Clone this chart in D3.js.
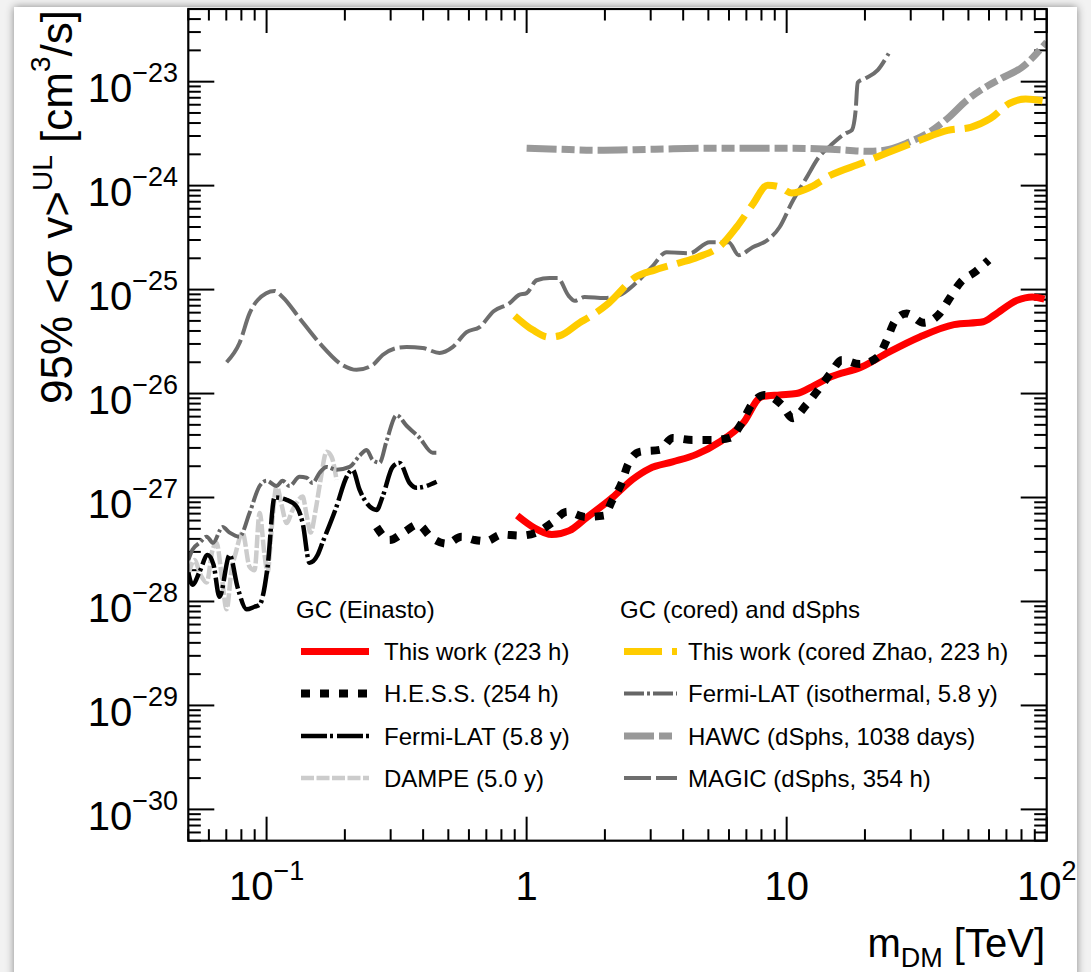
<!DOCTYPE html>
<html lang="en">
<head>
<meta charset="UTF-8">
<title>DM annihilation upper limits</title>
<script src="https://d3js.org/d3.v7.min.js"></script>
<style>
  body { margin: 0; background: #ffffff; }
  svg { display: block; font-family: "Liberation Sans", Arial, Helvetica, sans-serif; }
</style>
</head>
<body>
<div class="canvas"></div>
<script>
// axis ranges and ticks
const xDomain = [0.05, 100];
const yDomain = [5e-31, 5e-23];
const xTickValues = [0.1, 1, 10, 100];
const xTickLabels = [['10', '−1'], ['1', ''], ['10', ''], ['10', '2']];
const yTickExps = [-30, -29, -28, -27, -26, -25, -24, -23];

// [m_DM (TeV), <sigma v> (cm^3/s)]
const thisWorkEinasto = [
  [0.92, 6.7e-28], [1.07, 5.1e-28], [1.25, 4.4e-28], [1.46, 4.8e-28], [1.70, 6.4e-28],
  [2.14, 1.0e-27], [2.56, 1.5e-27], [2.97, 1.9e-27], [3.64, 2.2e-27], [4.5, 2.6e-27],
  [5.5, 3.4e-27], [6.8, 5.2e-27], [8.0, 9.3e-27], [9.4, 9.7e-27], [10.9, 1.0e-26],
  [12.8, 1.2e-26], [14.8, 1.45e-26], [19.4, 1.8e-26], [24.7, 2.5e-26], [32.5, 3.5e-26],
  [44, 4.6e-26], [57, 4.9e-26], [63, 5.7e-26], [77, 7.9e-26], [88, 8.5e-26], [98, 8.1e-26]
];
const hess = [
  [0.265, 5.2e-28], [0.297, 3.9e-28], [0.34, 4.7e-28], [0.381, 5.5e-28], [0.431, 4.1e-28],
  [0.492, 3.6e-28], [0.562, 4.2e-28], [0.631, 3.9e-28], [0.70, 3.8e-28], [0.80, 4.4e-28],
  [0.94, 4.3e-28], [1.09, 4.6e-28], [1.25, 5.7e-28], [1.43, 7.3e-28], [1.69, 6.5e-28],
  [1.98, 6.7e-28], [2.14, 9.5e-28], [2.32, 1.38e-27], [2.45, 2.06e-27], [2.72, 2.75e-27],
  [3.25, 2.87e-27], [3.64, 3.74e-27], [4.35, 3.58e-27], [5.19, 3.58e-27], [6.04, 3.74e-27],
  [6.71, 5.2e-27], [7.33, 7.8e-27], [8.23, 9.7e-27], [9.57, 7.8e-27], [10.55, 5.8e-27],
  [11.9, 7.8e-27], [13.2, 1.08e-26], [14.8, 1.58e-26], [16.3, 2.1e-26], [19.1, 1.92e-26],
  [22.4, 2.25e-26], [24.3, 3.3e-26], [26.0, 4.9e-26], [28.9, 5.9e-26], [33.6, 4.8e-26],
  [38.8, 5.9e-26], [42.4, 8.3e-26], [46.7, 1.18e-25], [52.9, 1.47e-25], [59.8, 1.92e-25]
];
const fermiEinasto = [
  [0.05, 1.9e-28], [0.0519, 1.45e-28], [0.0553, 1.94e-28], [0.0593, 2.8e-28], [0.0625, 2.26e-28],
  [0.0659, 1.11e-28], [0.0721, 2.8e-28], [0.0774, 1.36e-28], [0.0838, 8.4e-29], [0.0899, 8.9e-29],
  [0.094, 9.3e-29], [0.1009, 2.16e-28], [0.1073, 1.0e-27], [0.1194, 9.5e-28], [0.1304, 8.2e-28],
  [0.1376, 5.7e-28], [0.1463, 2.36e-28], [0.1571, 2.8e-28], [0.1642, 3.7e-28], [0.1858, 8.2e-28],
  [0.2031, 1.58e-27], [0.2142, 1.85e-27], [0.2278, 1.19e-27], [0.2489, 8.2e-28], [0.2649, 7.6e-28],
  [0.2794, 1.02e-27], [0.3052, 1.97e-27], [0.3248, 2.15e-27], [0.3548, 1.38e-27], [0.3775, 1.24e-27],
  [0.4507, 1.42e-27]
];
const dampe = [
  [0.05, 1.81e-28], [0.0528, 2.5e-28], [0.0557, 1.81e-28], [0.0588, 1.52e-28], [0.062, 3.15e-28],
  [0.0642, 3.67e-28], [0.0671, 1.81e-28], [0.0702, 8.4e-29], [0.0733, 2.0e-28], [0.076, 2.9e-28],
  [0.0808, 4.6e-28], [0.086, 2.16e-28], [0.0899, 2.0e-28], [0.094, 7.1e-28], [0.0982, 2.8e-28],
  [0.1009, 1.9e-28], [0.1045, 4.9e-28], [0.1093, 1.29e-27], [0.1142, 8.5e-28], [0.1194, 5.7e-28],
  [0.1259, 7.6e-28], [0.1304, 8.9e-28], [0.1376, 1.02e-27], [0.1425, 6.8e-28], [0.1477, 4.6e-28],
  [0.1544, 7.6e-28], [0.1613, 1.48e-27], [0.1701, 2.75e-27], [0.1778, 2.46e-27], [0.1858, 1.48e-27]
];
const thisWorkCored = [
  [0.899, 5.6e-26], [1.054, 4.1e-26], [1.215, 3.5e-26], [1.339, 3.6e-26], [1.599, 4.8e-26],
  [1.732, 5.4e-26], [2.067, 7.4e-26], [2.626, 1.32e-25], [3.107, 1.54e-25], [3.843, 1.8e-25],
  [4.547, 2.05e-25], [5.623, 2.7e-25], [6.424, 4.0e-25], [7.40, 6.6e-25], [8.45, 1.01e-24],
  [9.40, 9.7e-25], [10.45, 8.5e-25], [12.37, 9.7e-25], [14.77, 1.26e-24], [19.43, 1.64e-24],
  [24.68, 2.09e-24], [32.47, 2.73e-24], [41.6, 3.4e-24], [51.0, 3.64e-24], [60.9, 4.44e-24],
  [72.1, 6.2e-24], [83.0, 6.8e-24], [98.2, 6.5e-24]
];
const fermiIso = [
  [0.05, 2.5e-28], [0.0519, 3.15e-28], [0.0553, 3.67e-28], [0.0588, 4.2e-28], [0.0623, 3.67e-28],
  [0.0677, 5.2e-28], [0.0721, 4.6e-28], [0.0787, 4.2e-28], [0.086, 7.1e-28], [0.094, 1.29e-27],
  [0.100, 1.45e-27], [0.1093, 1.29e-27], [0.1152, 1.45e-27], [0.1226, 1.29e-27], [0.1339, 1.58e-27],
  [0.1425, 1.55e-27], [0.1503, 1.38e-27], [0.1599, 1.73e-27], [0.1701, 1.97e-27], [0.1858, 1.85e-27],
  [0.2085, 1.97e-27], [0.2278, 2.52e-27], [0.2425, 2.87e-27], [0.2557, 2.3e-27], [0.272, 2.16e-27],
  [0.2894, 3.5e-27], [0.3162, 6.2e-27], [0.3455, 4.9e-27], [0.3877, 3.75e-27], [0.435, 2.7e-27],
  [0.4546, 2.7e-27]
];
const hawc = [
  [1.0, 2.29e-24], [1.316, 2.24e-24], [1.858, 2.19e-24], [3.107, 2.24e-24], [5.24, 2.29e-24],
  [7.40, 2.29e-24], [10.45, 2.29e-24], [14.77, 2.24e-24], [20.86, 2.14e-24], [23.82, 2.19e-24],
  [29.46, 2.61e-24], [34.85, 3.19e-24], [41.6, 4.44e-24], [49.2, 6.6e-24], [58.8, 9.0e-24],
  [67.1, 1.08e-23], [80.2, 1.37e-23], [100, 2.4e-23]
];
const magic = [
  [0.0702, 2.0e-26], [0.0787, 3.06e-26], [0.086, 5.9e-26], [0.0923, 7.9e-26], [0.1073, 9.7e-26],
  [0.1152, 8.5e-26], [0.1339, 5.3e-26], [0.1599, 3.06e-26], [0.196, 1.88e-26], [0.2219, 1.69e-26],
  [0.2557, 1.88e-26], [0.2794, 2.35e-26], [0.3162, 2.74e-26], [0.3455, 2.8e-26], [0.3981, 2.74e-26],
  [0.4627, 2.46e-26], [0.5192, 2.8e-26], [0.5878, 3.9e-26], [0.6596, 4.36e-26], [0.7467, 6.2e-26],
  [0.8602, 7.4e-26], [0.9316, 8.85e-26], [1.0, 9.25e-26], [1.093, 1.23e-25], [1.226, 1.29e-25],
  [1.316, 1.29e-25], [1.451, 8.7e-26], [1.53, 7.8e-26], [1.671, 8.5e-26], [1.995, 8.3e-26],
  [2.279, 8.85e-26], [2.626, 1.15e-25], [3.025, 1.64e-25], [3.455, 2.29e-25], [4.236, 2.24e-25],
  [5.056, 2.86e-25], [5.984, 2.86e-25], [6.537, 2.14e-25], [7.40, 2.56e-25], [8.45, 3.0e-25],
  [9.40, 4.0e-25], [10.45, 6.8e-25], [11.94, 1.2e-24], [13.28, 1.87e-24], [14.77, 2.44e-24],
  [16.87, 3.19e-24], [17.78, 3.4e-24], [18.42, 5.3e-24], [18.75, 9.8e-24], [20.13, 1.08e-23],
  [22.39, 1.29e-23], [24.68, 1.87e-23]
];

const leftHeader = 'GC (Einasto)';
const rightHeader = 'GC (cored) and dSphs';
const leftLabels = ['This work (223 h)', 'H.E.S.S. (254 h)', 'Fermi-LAT (5.8 y)', 'DAMPE (5.0 y)'];
const rightLabels = ['This work (cored Zhao, 223 h)', 'Fermi-LAT (isothermal, 5.8 y)',
  'HAWC (dSphs, 1038 days)', 'MAGIC (dSphs, 354 h)'];

// line styles
const styles = {
  red:    { color: '#ff0000', width: 7,   dash: null },
  hess:   { color: '#000000', width: 8,   dash: '9,10' },
  fermi:  { color: '#000000', width: 4.5, dash: '26,3,3,4' },
  dampe:  { color: '#cccccc', width: 4.5, dash: '13,2.5' },
  yellow: { color: '#ffcc00', width: 7,   dash: '38,10' },
  iso:    { color: '#666666', width: 4,   dash: '20,3,3,3' },
  hawc:   { color: '#999999', width: 7,   dash: '30,5,13,5,13,5' },
  magic:  { color: '#6e6e6e', width: 4,   dash: '27,5' }
};

const W = 1091, H = 972;
const plot = { left: 188.3, right: 1046.7, top: 9, bottom: 840.7 };

const svg = d3.select('.canvas').append('svg')
  .attr('width', W).attr('height', H);

// screenshot-like card with a soft shadow
const defs = svg.append('defs');
const f = defs.append('filter').attr('id', 'shadow')
  .attr('x', -0.05).attr('y', -0.05).attr('width', 1.1).attr('height', 1.1);
f.append('feDropShadow').attr('dx', 0).attr('dy', 0)
  .attr('stdDeviation', 4).attr('flood-color', '#000').attr('flood-opacity', 0.45);
svg.append('rect').attr('width', W).attr('height', H).attr('fill', '#f2f2f2');
svg.append('rect').attr('x', 14).attr('y', 7).attr('width', 1063).attr('height', 1010)
  .attr('fill', '#fff').attr('filter', 'url(#shadow)');

defs.append('clipPath').attr('id', 'clip').append('rect')
  .attr('x', plot.left).attr('y', plot.top)
  .attr('width', plot.right - plot.left).attr('height', plot.bottom - plot.top);

const x = d3.scaleLog().domain(xDomain).range([plot.left, plot.right]);
const y = d3.scaleLog().domain(yDomain).range([plot.bottom, plot.top]);

// ticks (ROOT style: on all four sides)
const ticks = svg.append('g').attr('stroke', '#000').attr('stroke-width', 2);
for (let d = -2; d <= 2; d++) {
  for (let k = 1; k <= 9; k++) {
    const v = k * Math.pow(10, d);
    if (v < xDomain[0] * 0.999 || v > xDomain[1] * 1.001) continue;
    const len = k === 1 ? 24 : 11.5;
    const px = x(v);
    ticks.append('line').attr('x1', px).attr('x2', px).attr('y1', plot.bottom).attr('y2', plot.bottom - len);
    ticks.append('line').attr('x1', px).attr('x2', px).attr('y1', plot.top).attr('y2', plot.top + len);
  }
}
for (let d = -31; d <= -23; d++) {
  for (let k = 1; k <= 9; k++) {
    const v = k * Math.pow(10, d);
    if (v < yDomain[0] * 0.999 || v > yDomain[1] * 1.001) continue;
    const len = k === 1 ? 26 : 12.5;
    const py = y(v);
    ticks.append('line').attr('x1', plot.left).attr('x2', plot.left + len).attr('y1', py).attr('y2', py);
    ticks.append('line').attr('x1', plot.right).attr('x2', plot.right - len).attr('y1', py).attr('y2', py);
  }
}

// tick labels
xTickValues.forEach((v, i) => {
  const t = svg.append('text').attr('x', x(v)).attr('y', 900)
    .attr('text-anchor', 'middle').attr('font-size', 40);
  t.append('tspan').text(xTickLabels[i][0]);
  if (xTickLabels[i][1]) t.append('tspan').attr('dy', -20).attr('font-size', 27).text(xTickLabels[i][1]);
});
yTickExps.forEach(e => {
  const t = svg.append('text').attr('x', 178).attr('y', y(Math.pow(10, e)) + 20.4)
    .attr('text-anchor', 'end').attr('font-size', 40);
  t.append('tspan').text('10');
  t.append('tspan').attr('dy', -20).attr('font-size', 27).text('−' + Math.abs(e));
});

// axis titles
const xt = svg.append('text').attr('x', 1045).attr('y', 957)
  .attr('text-anchor', 'end').attr('font-size', 40);
xt.append('tspan').text('m');
xt.append('tspan').attr('dy', 10).attr('font-size', 27).text('DM');
xt.append('tspan').attr('dy', -10).text(' [TeV]');

const yt = svg.append('text').attr('transform', 'translate(72,10) rotate(-90)')
  .attr('text-anchor', 'end').attr('font-size', 44);
yt.append('tspan').text('95% <σ v>');
yt.append('tspan').attr('dy', -20).attr('font-size', 28).text('UL');
yt.append('tspan').attr('dy', 20).text(' [cm');
yt.append('tspan').attr('dy', -22).attr('font-size', 28).text('3');
yt.append('tspan').attr('dy', 22).text('/s]');

// curves
const line = d3.line().x(d => x(d[0])).y(d => y(d[1])).curve(d3.curveMonotoneX);
const curves = svg.append('g').attr('clip-path', 'url(#clip)');
const series = [
  [dampe, styles.dampe], [fermiIso, styles.iso], [fermiEinasto, styles.fermi],
  [magic, styles.magic], [hawc, styles.hawc], [thisWorkCored, styles.yellow],
  [thisWorkEinasto, styles.red], [hess, styles.hess]
];
series.forEach(([data, s]) => {
  curves.append('path').datum(data).attr('d', line)
    .attr('fill', 'none').attr('stroke', s.color).attr('stroke-width', s.width)
    .attr('stroke-dasharray', s.dash).attr('stroke-linejoin', 'round');
});

// frame
svg.append('rect').attr('x', plot.left).attr('y', plot.top)
  .attr('width', plot.right - plot.left).attr('height', plot.bottom - plot.top)
  .attr('fill', 'none').attr('stroke', '#000').attr('stroke-width', 2.2);

// legend
const rowY = [660, 702, 744.5, 786.7];
function legendColumn(header, hx, labels, st, sx0, sx1, tx) {
  svg.append('text').attr('x', hx).attr('y', 618).attr('font-size', 24).text(header);
  labels.forEach((lab, i) => {
    const s = st[i];
    svg.append('line').attr('x1', sx0).attr('x2', sx1)
      .attr('y1', rowY[i] - 8.6).attr('y2', rowY[i] - 8.6)
      .attr('stroke', s.color).attr('stroke-width', s.width).attr('stroke-dasharray', s.dash);
    svg.append('text').attr('x', tx).attr('y', rowY[i]).attr('font-size', 24).text(lab);
  });
}
legendColumn(leftHeader, 296, leftLabels, [styles.red, styles.hess, styles.fermi, styles.dampe], 301, 369, 384);
legendColumn(rightHeader, 620, rightLabels, [styles.yellow, styles.iso, styles.hawc, styles.magic], 624, 677, 688);
</script>
</body>
</html>
